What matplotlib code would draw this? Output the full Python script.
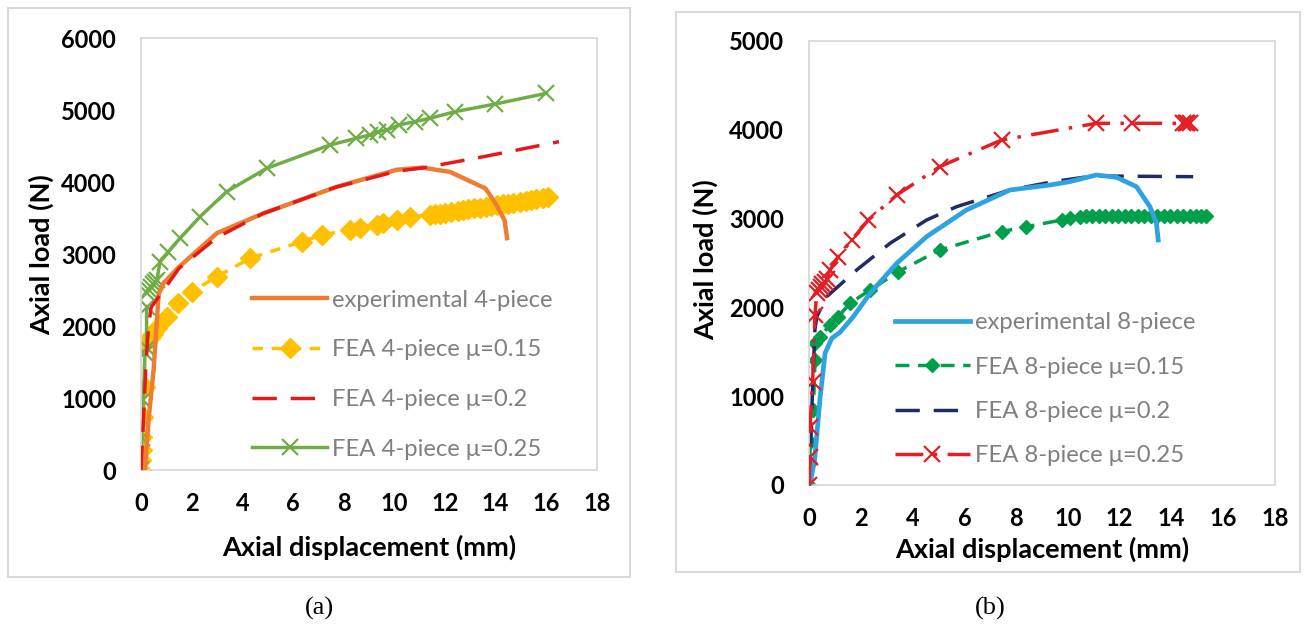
import numpy as np
import matplotlib.pyplot as plt
from matplotlib.patches import Rectangle

# ---- data (a): 4-piece ----
exp4_x = [0.15, 0.3, 0.5, 0.62, 0.7, 0.9, 1.5, 3.0, 4.8, 7.7, 10.1, 11.1, 12.2, 13.6, 14.0, 14.35, 14.45]
exp4_y = [0, 700, 1400, 2050, 2450, 2600, 2820, 3290, 3560, 3930, 4170, 4200, 4140, 3910, 3700, 3470, 3220]

f15_4_x = [0.0, 0.01, 0.03, 0.03, 0.09, 0.16, 0.1, 0.22, 0.35, 0.48, 0.62, 1.01, 1.47, 2.0, 2.99, 4.3,
           6.34, 7.13, 8.25, 8.65, 9.3, 9.57, 10.1, 10.6, 11.4, 11.6, 11.8, 12.0, 12.25, 12.5, 12.7,
           12.9, 13.15, 13.4, 13.6, 13.8, 14.05, 14.3, 14.5, 14.7, 14.95, 15.2, 15.4, 15.6, 15.85, 16.08]
f15_4_y = [0, 139, 278, 463, 740, 1157, 1760, 1782, 1830, 1890, 1968, 2129, 2315, 2476, 2685, 2940,
           3171, 3264, 3333, 3356, 3403, 3426, 3472, 3518, 3542, 3550, 3560, 3572, 3585, 3598, 3608,
           3620, 3632, 3645, 3655, 3665, 3678, 3690, 3700, 3712, 3725, 3738, 3750, 3762, 3778, 3796]

f20_4_x = [0.0, 0.1, 0.2, 0.3, 0.4, 0.75, 1.5, 3.0, 4.8, 7.7, 10.1, 11.2, 13.5, 16.5]
f20_4_y = [0, 700, 1500, 2000, 2260, 2430, 2800, 3230, 3560, 3930, 4150, 4200, 4350, 4560]

f25_4_x = [0.0, 0.03, 0.09, 0.16, 0.22, 0.22, np.nan, 0.24, 0.3, 0.38, 0.46, 0.55, 0.63, 0.75, 1.08,
           1.54, 2.33, 3.38, 4.96, 7.46, 8.5, 9.04, 9.36, 9.7, 10.2, 10.8, 11.4, 12.4, 13.98, 16.0]
f25_4_y = [0, 444, 972, 1625, 1700, 2270, np.nan, 2460, 2500, 2540, 2580, 2610, 2640, 2893, 3032,
           3218, 3518, 3866, 4190, 4514, 4607, 4653, 4699, 4722, 4792, 4838, 4884, 4977, 5083, 5232]

# ---- data (b): 8-piece ----
exp8_x = [0.04, 0.23, 0.42, 0.62, 0.88, 1.2, 1.71, 2.36, 3.39, 4.54, 6.08, 7.76, 9.3, 10.07, 11.1,
          11.88, 12.65, 13.17, 13.42, 13.49]
exp8_y = [0, 319, 957, 1483, 1652, 1720, 1895, 2159, 2497, 2796, 3097, 3322, 3378, 3416, 3491,
          3465, 3359, 3134, 2947, 2759]

f15_8_x = [0.0, 0.04, 0.04, 0.17, 0.23, 0.23, 0.42, 0.81, 1.13, 1.58, 2.36, 3.45, 5.05, 7.44, 8.4,
           9.76, 10.07, 10.46, 10.7, 10.95, 11.2, 11.45, 11.7, 11.95, 12.2, 12.45, 12.7, 12.95,
           13.2, 13.45, 13.7, 13.95, 14.2, 14.45, 14.7, 14.95, 15.15, 15.35]
f15_8_y = [0, 244, 488, 845, 1408, 1595, 1670, 1802, 1895, 2046, 2196, 2402, 2647, 2853, 2909,
           2984, 3003, 3021, 3025, 3028, 3030, 3030, 3030, 3030, 3030, 3030, 3030, 3030,
           3030, 3030, 3030, 3030, 3030, 3030, 3030, 3030, 3030, 3030]

f20_8_x = [0.0, 0.07, 0.15, 0.23, 0.3, 0.68, 1.84, 3.13, 4.54, 5.7, 7.76, 9.43, 10.6, 11.2, 14.84]
f20_8_y = [0, 500, 1200, 1750, 1895, 2120, 2421, 2722, 2984, 3134, 3322, 3416, 3465, 3480, 3472]

f25_8_x = [0.0, 0.04, 0.04, 0.14, 0.23, 0.3, 0.38, 0.45, 0.52, 0.6, 0.68, 0.81, 1.13, 1.65, 2.29,
           3.39, 5.05, 7.44, 11.1, 12.46, 14.45, 14.55, 14.62, 14.7]
f25_8_y = [0, 319, 657, 1163, 1914, 2160, 2200, 2230, 2260, 2290, 2320, 2421, 2571, 2759, 2984,
           3266, 3585, 3885, 4073, 4073, 4073, 4073, 4073, 4073]

x_ticks = [0, 2, 4, 6, 8, 10, 12, 14, 16, 18]

tick_font = 'Lato'
grey = '#808080'

fig = plt.figure(figsize=(13.06, 6.31), dpi=100)

# outer chart frames (pixels -> figure fraction)
W, H = 1306.0, 631.0
def frame(x0, y0, x1, y1):
    fig.patches.append(Rectangle((x0 / W, 1 - y1 / H), (x1 - x0) / W, (y1 - y0) / H,
                                 transform=fig.transFigure, fill=False, ec='#D9D9D9', lw=1.5))
frame(8, 8, 630, 577)
frame(676, 12, 1300, 572)

def style_axes(ax, ymax, ystep):
    ax.set_xlim(0, 18)
    ax.set_ylim(0, ymax)
    ax.set_xticks(x_ticks)
    ax.set_yticks(np.arange(0, ymax + 1, ystep))
    for s in ax.spines.values():
        s.set_color('#D9D9D9')
        s.set_linewidth(1.3)
    ax.tick_params(length=0, labelsize=17)
    ax.tick_params(axis='y', pad=18)
    ax.tick_params(axis='x', pad=16)
    for lab in ax.get_xticklabels() + ax.get_yticklabels():
        lab.set_fontweight('bold')
        lab.set_fontfamily(tick_font)
    ax.set_xlabel('Axial displacement (mm)', fontsize=19.5, fontweight='bold', family=tick_font)
    ax.set_ylabel('Axial load (N)', fontsize=19.5, fontweight='bold', family=tick_font)

leg_kw = dict(loc='upper left', frameon=False, handlelength=3.15, handletextpad=0.2, borderpad=0,
              numpoints=1, labelcolor=grey, prop={'family': tick_font, 'size': 17.2})

# ---------- (a) ----------
ax1 = fig.add_axes([141 / W, 1 - 470 / H, (597 - 141) / W, (470 - 38) / H])
ax1.plot(exp4_x, exp4_y, color='#ED7D31', lw=3.2, label='experimental 4-piece', zorder=3)
ax1.plot(f15_4_x, f15_4_y, color='#FFC000', lw=2.5, ls=(0, (3, 2.5)), marker='D', ms=10,
         label='FEA 4-piece μ=0.15', zorder=2)
ax1.plot(f20_4_x, f20_4_y, color='#E3191C', lw=2.5, ls=(0, (7, 4)), label='FEA 4-piece μ=0.2', zorder=4)
ax1.plot(f25_4_x, f25_4_y, color='#70AD47', lw=2.5, marker='x', ms=11, mew=1.6,
         label='FEA 4-piece μ=0.25', zorder=2)
style_axes(ax1, 6000, 1000)
ax1.xaxis.set_label_coords(0.5, -0.150)
ax1.yaxis.set_label_coords(-0.191, 0.498)
ax1.legend(bbox_to_anchor=(0.217, 0.445), labelspacing=1.2, **leg_kw)

# ---------- (b) ----------
ax2 = fig.add_axes([809 / W, 1 - 485 / H, (1275 - 809) / W, (485 - 41) / H])
ax2.plot(exp8_x, exp8_y, color='#2EA3DD', lw=3.4, label='experimental 8-piece', zorder=3)
ax2.plot(f15_8_x, f15_8_y, color='#00A04A', lw=2.5, ls=(0, (4, 2.5)), marker='D', ms=7,
         label='FEA 8-piece μ=0.15', zorder=2)
ax2.plot(f20_8_x, f20_8_y, color='#202B63', lw=2.5, ls=(0, (7, 4)), label='FEA 8-piece μ=0.2', zorder=2)
ax2.plot(f25_8_x, f25_8_y, color='#E31E24', lw=2.5, ls=(0, (8, 3, 1, 3)), marker='x', ms=11, mew=1.6,
         label='FEA 8-piece μ=0.25', zorder=4)
style_axes(ax2, 5000, 1000)
ax2.xaxis.set_label_coords(0.5, -0.117)
ax2.yaxis.set_label_coords(-0.195, 0.507)
ax2.legend(bbox_to_anchor=(0.158, 0.416), labelspacing=0.98, **leg_kw)

fig.text(319 / W, 1 - 608 / H, '(a)', ha='center', va='center', fontsize=19, family='Liberation Serif')
fig.text(990 / W, 1 - 608 / H, '(b)', ha='center', va='center', fontsize=19, family='Liberation Serif')

fig.savefig('out.png', dpi=100)
